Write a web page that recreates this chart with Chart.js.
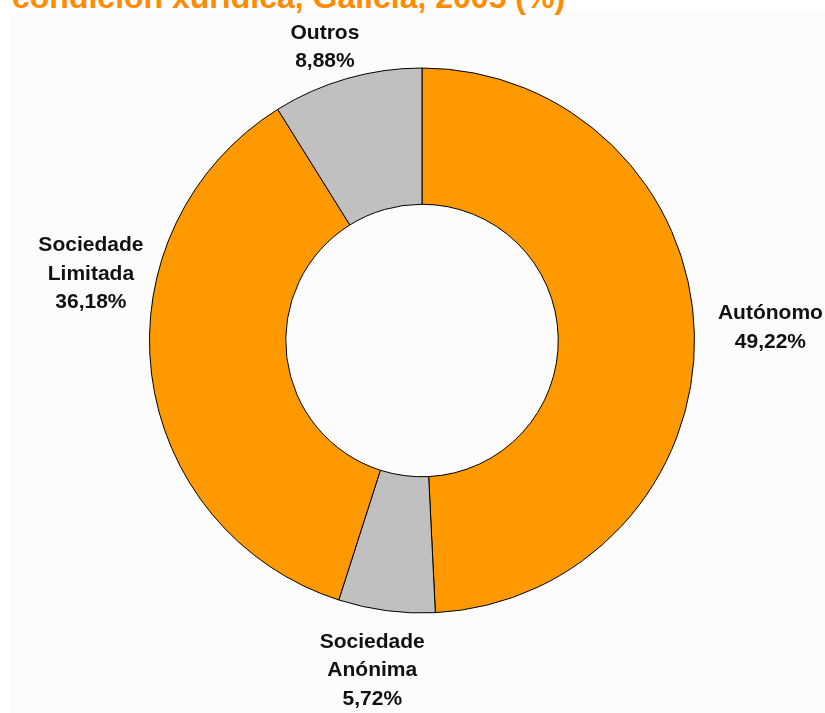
<!DOCTYPE html>
<html>
<head>
<meta charset="utf-8">
<script src="https://cdn.jsdelivr.net/npm/chart.js@4/dist/chart.umd.min.js"></script>
<style>
  html, body { margin: 0; padding: 0; background: #ffffff; }
  body { width: 825px; height: 713px; position: relative; overflow: hidden; }
  #panel { position: absolute; left: 10px; top: 10px; right: 0; bottom: 0; background: #fcfcfc; }
  #title {
    position: absolute; left: 12px; top: -19px; margin: 0;
    font: bold 32px "Liberation Sans", Arial, sans-serif; line-height: 32px;
    color: #ff8c00; white-space: nowrap;
  }
  #wrap { position: absolute; left: 0; top: 0; width: 825px; height: 713px; }
</style>
</head>
<body>
<div id="panel"></div>
<h1 id="title">condición xurídica, Galicia, 2005 (%)</h1>
<div id="wrap"><canvas id="donut" width="825" height="713"></canvas></div>
<script>
// Empresas por condición xurídica (%), clockwise from the top
const categories = ['Autónomo', 'Sociedade Anónima', 'Sociedade Limitada', 'Outros'];
const shares = [49.22, 5.72, 36.18, 8.88];
const sliceColors = ['#ff9900', '#c0c0c0', '#ff9900', '#c0c0c0'];

// label placement: pushed out from each slice's middle, then nudged by hand
const labelGap = 40;
const labelNudge = [[36, -5], [-9, 20], [-21, -105], [-11, 7]];

function fmt(v) {
    return v.toFixed(2).replace('.', ',') + '%';
}

const sliceLabels = {
    id: 'sliceLabels',
    afterDatasetsDraw(chart) {
        const ctx = chart.ctx;
        const arcs = chart.getDatasetMeta(0).data;
        ctx.save();
        ctx.font = 'bold 21px "Liberation Sans", Arial, sans-serif';
        ctx.fillStyle = '#111111';
        ctx.textAlign = 'center';
        ctx.textBaseline = 'middle';
        arcs.forEach((arc, i) => {
            const p = arc.getProps(['x', 'y', 'startAngle', 'endAngle', 'outerRadius'], true);
            const mid = (p.startAngle + p.endAngle) / 2;
            const r = p.outerRadius + labelGap;
            const cx = p.x + Math.cos(mid) * r + labelNudge[i][0];
            const cy = p.y + Math.sin(mid) * r + labelNudge[i][1];
            const lines = categories[i].split(' ').concat(fmt(shares[i]));
            const lh = 28.5;
            lines.forEach((txt, k) => {
                ctx.fillText(txt, cx, cy + (k - (lines.length - 1) / 2) * lh);
            });
        });
        ctx.restore();
    }
};

new Chart(document.getElementById('donut'), {
    type: 'doughnut',
    data: {
        labels: categories,
        datasets: [{
            data: shares,
            backgroundColor: sliceColors,
            borderColor: '#000000',
            borderWidth: 1,
            hoverOffset: 0
        }]
    },
    options: {
        responsive: false,
        animation: false,
        cutout: '50%',
        layout: { padding: { left: 149, right: 130, top: 67, bottom: 99 } },
        plugins: {
            legend: { display: false },
            tooltip: { enabled: false }
        }
    },
    plugins: [sliceLabels]
});
</script>
</body>
</html>
